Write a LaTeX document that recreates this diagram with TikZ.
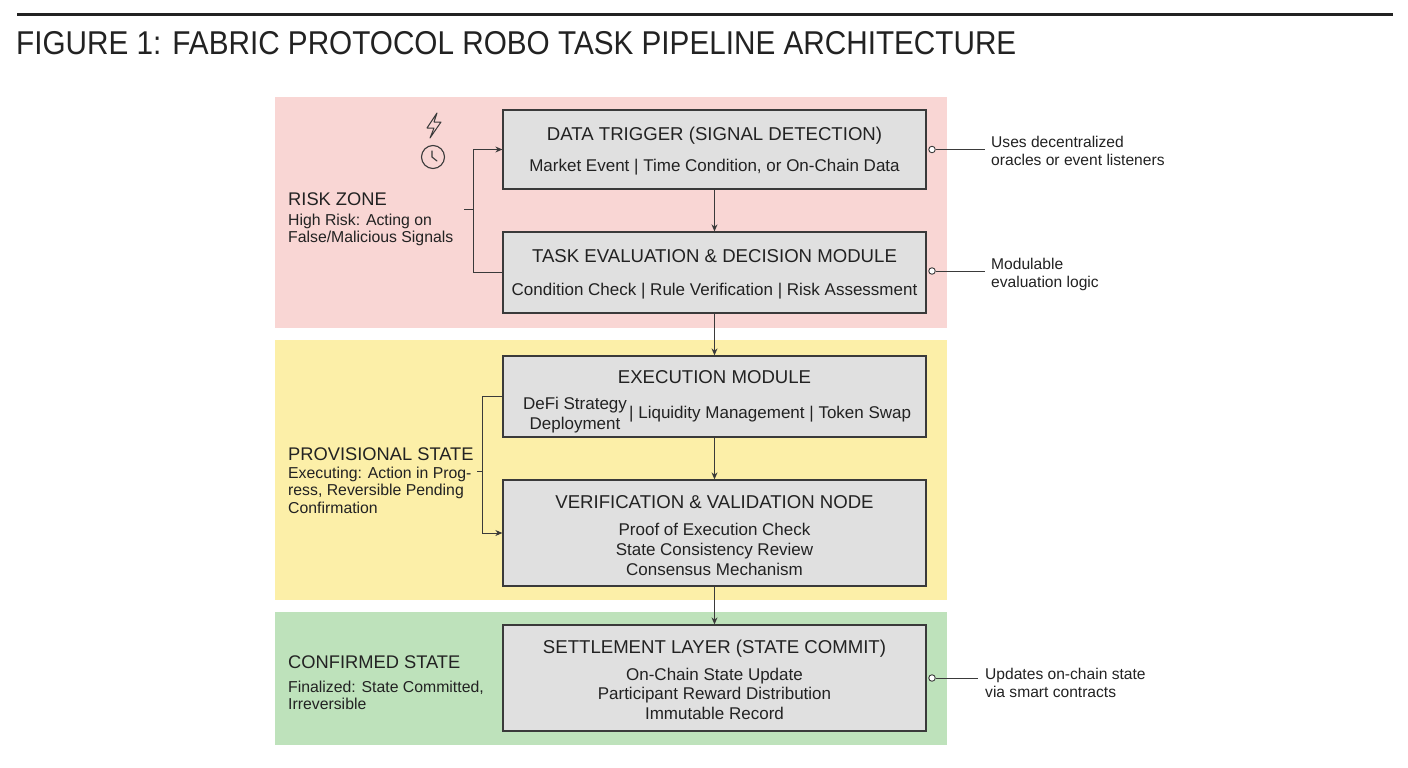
\documentclass[tikz,border=0pt]{standalone}
\usepackage{fontspec}
\setmainfont{Liberation Sans}
\newfontfamily\titlefont[FakeStretch=0.9]{Liberation Sans}
\usetikzlibrary{arrows.meta}
\definecolor{zred}{HTML}{F9D6D4}
\definecolor{zyel}{HTML}{FCEFA8}
\definecolor{zgrn}{HTML}{BEE2BB}
\definecolor{boxfill}{HTML}{E0E0E0}
\definecolor{ink}{HTML}{222222}
\definecolor{lne}{HTML}{3A3A3A}
\tikzset{
  zone/.style={rectangle, inner sep=0pt, draw=none},
  stagebox/.style={rectangle, draw=lne, line width=1.3pt, fill=boxfill, minimum width=423pt, inner sep=0pt},
  btitle/.style={anchor=base, inner sep=0pt, text=ink, font=\fontsize{18.6}{22}\selectfont},
  bsub/.style={anchor=base, inner sep=0pt, text=ink, font=\fontsize{17}{19}\selectfont},
  zhead/.style={anchor=base west, inner sep=0pt, text=ink, font=\fontsize{18.3}{22}\selectfont},
  zbody/.style={anchor=base west, inner sep=0pt, text=ink, font=\fontsize{15.8}{17.5}\selectfont},
  note/.style={anchor=base west, inner sep=0pt, text=ink, font=\fontsize{15.6}{18}\selectfont},
  flow/.style={draw=lne, line width=1pt, -{Stealth[length=7pt,width=6pt]}},
  plain/.style={draw=lne, line width=1pt},
  dot/.style={circle, draw=lne, line width=0.9pt, fill=white, inner sep=0pt, minimum size=6.5pt}
}
\begin{document}
\begin{tikzpicture}[x=1pt,y=-1pt]
\useasboundingbox[fill=white] (0,0) rectangle (1408,768);
% header
\draw[line width=3pt, ink] (17,15) -- (1393,15);
\node[anchor=base west, inner sep=0pt, text=ink, font=\titlefont\fontsize{33}{36}\selectfont] (title) at (16,55) {FIGURE 1: FABRIC PROTOCOL ROBO TASK PIPELINE ARCHITECTURE};
% zones
\node[zone, fill=zred, minimum width=672pt, minimum height=231pt] (zr) at (611,212.5) {};
\node[zone, fill=zyel, minimum width=672pt, minimum height=260pt] (zy) at (611,470) {};
\node[zone, fill=zgrn, minimum width=672pt, minimum height=133pt] (zg) at (611,678.5) {};
% boxes
\node[stagebox, minimum height=79pt] (b1) at (714.5,149.5) {};
\node[stagebox, minimum height=81pt] (b2) at (714.5,272.5) {};
\node[stagebox, minimum height=81pt] (b3) at (714.5,396.5) {};
\node[stagebox, minimum height=106pt] (b4) at (714.5,533) {};
\node[stagebox, minimum height=106pt] (b5) at (714.5,678) {};
% box texts
\node[btitle] (t1) at (714.5,140.5) {DATA TRIGGER (SIGNAL DETECTION)};
\node[bsub] (s1) at (714.5,171) {Market Event | Time Condition, or On-Chain Data};
\node[btitle] (t2) at (714.5,262.5) {TASK EVALUATION \& DECISION MODULE};
\node[bsub] (s2) at (714.5,295) {Condition Check | Rule Verification | Risk Assessment};
\node[btitle] (t3) at (714.5,383.5) {EXECUTION MODULE};
\node[bsub, anchor=base west] (s3a) at (629,418) {| Liquidity Management | Token Swap};
\node[bsub] (s3b) at (575,409) {DeFi Strategy};
\node[bsub] (s3c) at (575,429) {Deployment};
\node[btitle] (t4) at (714.5,508.5) {VERIFICATION \& VALIDATION NODE};
\node[bsub] (s4a) at (714.5,535) {Proof of Execution Check};
\node[bsub] (s4b) at (714.5,555) {State Consistency Review};
\node[bsub] (s4c) at (714.5,575) {Consensus Mechanism};
\node[btitle] (t5) at (714.5,653.5) {SETTLEMENT LAYER (STATE COMMIT)};
\node[bsub] (s5a) at (714.5,680) {On-Chain State Update};
\node[bsub] (s5b) at (714.5,699) {Participant Reward Distribution};
\node[bsub] (s5c) at (714.5,719) {Immutable Record};
% flow arrows
\draw[flow] (b1.south) -- (b2.north);
\draw[flow] (b2.south) -- (b3.north);
\draw[flow] (b3.south) -- (b4.north);
\draw[flow] (b4.south) -- (b5.north);
% brackets
\coordinate (rs) at (464,209);
\draw[flow] (b2.west) -- ++(-29,0) |- (b1.west);
\draw[plain] (rs) -- ++(10,0);
\coordinate (ys) at (477,471);
\draw[flow] (b3.west) -- ++(-20,0) |- (b4.west);
\draw[plain] (ys) -- ++(6,0);
% zone labels
\node[zhead] (l1) at (288,205) {RISK ZONE};
\node[zbody] (l1a) at (288,225) {High Risk: Acting on};
\node[zbody] (l1b) at (288,242) {False/Malicious Signals};
\node[zhead] (l2) at (288,460) {PROVISIONAL STATE};
\node[zbody] (l2a) at (288,478) {Executing: Action in Prog-};
\node[zbody] (l2b) at (288,495.5) {ress, Reversible Pending};
\node[zbody] (l2c) at (288,513) {Confirmation};
\node[zhead] (l3) at (288,668) {CONFIRMED STATE};
\node[zbody] (l3a) at (288,692) {Finalized: State Committed,};
\node[zbody] (l3b) at (288,709) {Irreversible};
% icons
\draw[lne, line width=1pt, line join=round] (437,113) -- (427,128) -- (434,128) -- (430,138) -- (441,122) -- (434,122) -- cycle;
\node[circle, draw=lne, line width=1.1pt, minimum size=23pt, inner sep=0pt] (clk) at (433,157) {};
\draw[lne, line width=1.1pt, line cap=round] (clk.center) ++(-1,-6) -- ++(0,6) -- ++(5,4);
% annotations
\node[dot] (d1) at (932,149.5) {};
\draw[plain] (d1.east) -- (985,149.5);
\node[note] (n1a) at (991,147) {Uses decentralized};
\node[note] (n1b) at (991,165) {oracles or event listeners};
\node[dot] (d2) at (932,271) {};
\draw[plain] (d2.east) -- (985,271);
\node[note] (n2a) at (991,269) {Modulable};
\node[note] (n2b) at (991,287) {evaluation logic};
\node[dot] (d3) at (932,678) {};
\draw[plain] (d3.east) -- (978,678);
\node[note] (n3a) at (985,679) {Updates on-chain state};
\node[note] (n3b) at (985,697) {via smart contracts};
\end{tikzpicture}
\end{document}
